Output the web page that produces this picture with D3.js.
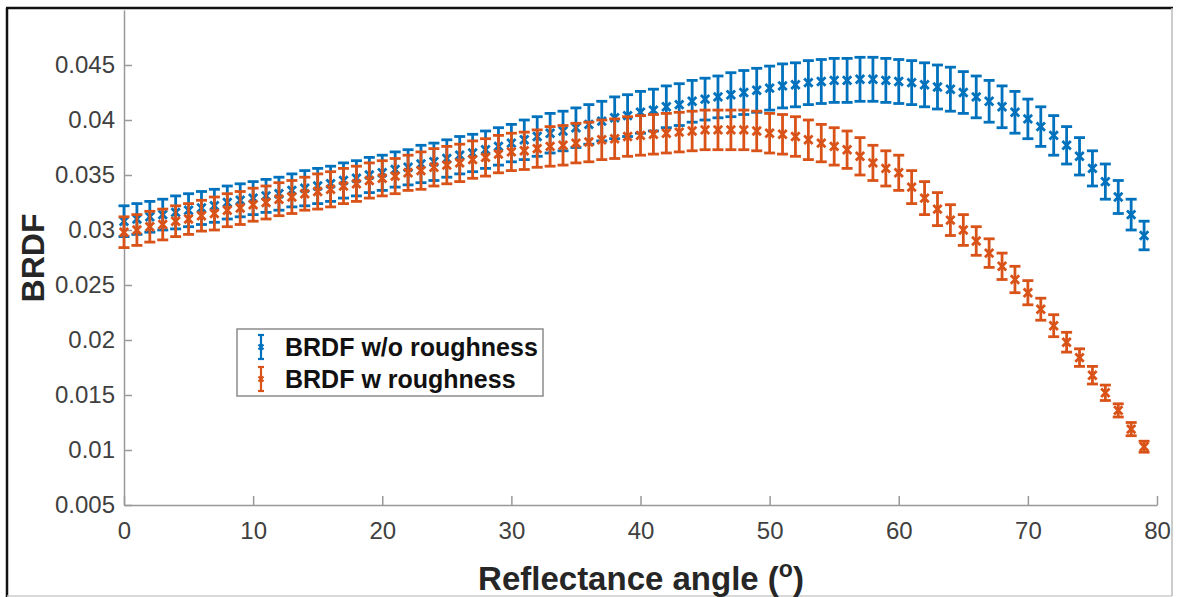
<!DOCTYPE html>
<html>
<head>
<meta charset="utf-8">
<script src="https://cdn.jsdelivr.net/npm/d3@7"></script>
<style>
  body { margin: 0; background: #fff; }
  text { font-family: "Liberation Sans", Arial, sans-serif; }
</style>
</head>
<body>
<div id="chart"></div>
<script>
// reflectance angle (deg)
var angles = [0,1,2,3,4,5,6,7,8,9,10,11,12,13,14,15,16,17,18,19,
  20,21,22,23,24,25,26,27,28,29,30,31,32,33,34,35,36,37,38,39,
  40,41,42,43,44,45,46,47,48,49,50,51,52,53,54,55,56,57,58,59,
  60,61,62,63,64,65,66,67,68,69,70,71,72,73,74,75,76,77,78,79];

// BRDF w/o roughness
var brdfSmooth = [0.0308,0.0310,0.0312,0.0314,0.0316,0.0318,0.0320,0.0322,0.0325,0.0327,
  0.0329,0.0331,0.0333,0.0336,0.0338,0.0340,0.0342,0.0345,0.0347,0.0350,
  0.0352,0.0355,0.0357,0.0360,0.0362,0.0365,0.0368,0.0370,0.0373,0.0376,
  0.0379,0.0382,0.0385,0.0388,0.0390,0.0393,0.0396,0.0399,0.0402,0.0404,
  0.0407,0.0409,0.0412,0.0414,0.0417,0.0419,0.0421,0.0423,0.0425,0.0427,
  0.0429,0.0431,0.0432,0.0434,0.0435,0.0436,0.0436,0.0437,0.0437,0.0436,
  0.0435,0.0434,0.0432,0.0430,0.0428,0.0425,0.0421,0.0417,0.0412,0.0407,
  0.0401,0.0394,0.0386,0.0377,0.0367,0.0356,0.0344,0.0330,0.0314,0.0295];
var errSmooth = [0.0014,0.0014,0.0014,0.0014,0.0015,0.0015,0.0015,0.0015,0.0015,0.0015,
  0.0015,0.0015,0.0015,0.0015,0.0016,0.0016,0.0016,0.0016,0.0016,0.0016,
  0.0016,0.0016,0.0016,0.0017,0.0017,0.0017,0.0017,0.0017,0.0017,0.0017,
  0.0017,0.0018,0.0018,0.0018,0.0018,0.0018,0.0018,0.0018,0.0019,0.0019,
  0.0019,0.0019,0.0019,0.0019,0.0019,0.0019,0.0019,0.0020,0.0020,0.0020,
  0.0020,0.0020,0.0020,0.0020,0.0020,0.0020,0.0020,0.0020,0.0020,0.0020,
  0.0020,0.0020,0.0020,0.0020,0.0020,0.0019,0.0019,0.0019,0.0019,0.0019,
  0.0018,0.0018,0.0018,0.0017,0.0017,0.0016,0.0016,0.0015,0.0014,0.0013];

// BRDF w roughness
var brdfRough = [0.0298,0.0300,0.0303,0.0305,0.0308,0.0310,0.0313,0.0315,0.0318,0.0320,
  0.0323,0.0325,0.0328,0.0330,0.0333,0.0335,0.0337,0.0340,0.0342,0.0345,
  0.0347,0.0349,0.0352,0.0354,0.0357,0.0359,0.0361,0.0364,0.0366,0.0369,
  0.0371,0.0372,0.0374,0.0376,0.0377,0.0379,0.0380,0.0382,0.0383,0.0385,
  0.0386,0.0387,0.0388,0.0389,0.0390,0.0391,0.0391,0.0391,0.0391,0.0390,
  0.0388,0.0387,0.0385,0.0382,0.0379,0.0376,0.0373,0.0367,0.0361,0.0356,
  0.0352,0.0339,0.0329,0.0319,0.0309,0.0300,0.0290,0.0279,0.0267,0.0255,
  0.0243,0.0228,0.0213,0.0198,0.0184,0.0168,0.0152,0.0136,0.0119,0.0103];
var errRough = [0.0014,0.0014,0.0014,0.0014,0.0014,0.0014,0.0014,0.0015,0.0015,0.0015,
  0.0015,0.0015,0.0015,0.0015,0.0015,0.0016,0.0016,0.0016,0.0016,0.0016,
  0.0016,0.0016,0.0016,0.0017,0.0017,0.0017,0.0017,0.0017,0.0017,0.0017,
  0.0017,0.0017,0.0017,0.0018,0.0018,0.0018,0.0018,0.0018,0.0018,0.0018,
  0.0018,0.0018,0.0018,0.0018,0.0018,0.0018,0.0018,0.0018,0.0018,0.0018,
  0.0018,0.0018,0.0018,0.0018,0.0017,0.0017,0.0017,0.0017,0.0016,0.0016,
  0.0016,0.0015,0.0015,0.0015,0.0014,0.0014,0.0013,0.0013,0.0012,0.0012,
  0.0011,0.0010,0.0010,0.0009,0.0008,0.0008,0.0007,0.0006,0.0006,0.0005];

var xTicks = [0,10,20,30,40,50,60,70,80];
var yTicks = [0.005,0.01,0.015,0.02,0.025,0.03,0.035,0.04,0.045];
var yTickLabels = ["0.005","0.01","0.015","0.02","0.025","0.03","0.035","0.04","0.045"];
var seriesNames = ["BRDF w/o roughness", "BRDF w roughness"];
var seriesColors = ["#0072BD", "#D95319"];

var width = 1177, height = 597;
var svg = d3.select("#chart").append("svg")
  .attr("width", width).attr("height", height);

// outer frame (black left/top, grey right/bottom)
svg.append("line").attr("x1", 7).attr("y1", 8).attr("x2", 7).attr("y2", 597)
  .attr("stroke", "#111").attr("stroke-width", 2.5);
svg.append("line").attr("x1", 6).attr("y1", 8).attr("x2", 1173).attr("y2", 8)
  .attr("stroke", "#111").attr("stroke-width", 2.5);
svg.append("line").attr("x1", 1172).attr("y1", 8).attr("x2", 1172).attr("y2", 596)
  .attr("stroke", "#bbb").attr("stroke-width", 1.5);
svg.append("line").attr("x1", 7).attr("y1", 596).attr("x2", 1172).attr("y2", 596)
  .attr("stroke", "#ccc").attr("stroke-width", 1.5);

var x = d3.scaleLinear().domain([0, 80]).range([124, 1157]);
var y = d3.scaleLinear().domain([0.005, 0.05]).range([505, 10]);

var xAxis = svg.append("g")
  .attr("transform", "translate(0,505)")
  .call(d3.axisBottom(x).tickValues(xTicks).tickSize(-9).tickSizeOuter(0).tickPadding(17));
var yAxis = svg.append("g")
  .attr("transform", "translate(124,0)")
  .call(d3.axisLeft(y).tickValues(yTicks).tickSize(-8).tickSizeOuter(0).tickPadding(9)
    .tickFormat(function(d, i) { return yTickLabels[i]; }));

[xAxis, yAxis].forEach(function(a) {
  a.select(".domain").attr("stroke", "#999").attr("stroke-width", 1.5);
  a.selectAll(".tick line").attr("stroke", "#999").attr("stroke-width", 1.5);
  a.selectAll(".tick text").attr("fill", "#404040")
    .style("font-size", "24px").style("font-family", "'Liberation Sans', Arial, sans-serif");
});

// error bar series
var capHalf = 5.5, mk = 4.2;
var drawSeries = function(vals, errs, color) {
  var pts = angles.map(function(a, i) { return {a: a, v: vals[i], e: errs[i]}; });
  var g = svg.append("g")
    .attr("stroke", color).attr("stroke-width", 2.8).attr("fill", "none");
  var bar = g.selectAll("g").data(pts).enter().append("g");
  bar.append("line")
    .attr("x1", function(d) { return x(d.a); })
    .attr("x2", function(d) { return x(d.a); })
    .attr("y1", function(d) { return y(d.v + d.e); })
    .attr("y2", function(d) { return y(d.v - d.e); });
  bar.append("line")
    .attr("x1", function(d) { return x(d.a) - capHalf; })
    .attr("x2", function(d) { return x(d.a) + capHalf; })
    .attr("y1", function(d) { return y(d.v + d.e); })
    .attr("y2", function(d) { return y(d.v + d.e); });
  bar.append("line")
    .attr("x1", function(d) { return x(d.a) - capHalf; })
    .attr("x2", function(d) { return x(d.a) + capHalf; })
    .attr("y1", function(d) { return y(d.v - d.e); })
    .attr("y2", function(d) { return y(d.v - d.e); });
  // x marker
  bar.append("path")
    .attr("d", function(d) {
      var cx = x(d.a), cy = y(d.v);
      return "M" + (cx - mk) + "," + (cy - mk) + "L" + (cx + mk) + "," + (cy + mk) +
        "M" + (cx - mk) + "," + (cy + mk) + "L" + (cx + mk) + "," + (cy - mk);
    });
};
drawSeries(brdfSmooth, errSmooth, seriesColors[0]);
drawSeries(brdfRough, errRough, seriesColors[1]);

// axis labels
svg.append("text")
  .attr("transform", "translate(44,258) rotate(-90)")
  .attr("text-anchor", "middle")
  .attr("fill", "#262626")
  .style("font-size", "32px").style("font-weight", "bold")
  .text("BRDF");

var xl = svg.append("text")
  .attr("x", 641).attr("y", 590)
  .attr("text-anchor", "middle")
  .attr("fill", "#262626")
  .style("font-size", "33px").style("font-weight", "bold");
xl.append("tspan").text("Reflectance angle (");
xl.append("tspan").attr("dy", -13).style("font-size", "23px").text("o");
xl.append("tspan").attr("dy", 13).text(")");

// legend
var leg = svg.append("g");
leg.append("rect")
  .attr("x", 237).attr("y", 329).attr("width", 306).attr("height", 67)
  .attr("fill", "#fff").attr("stroke", "#8c8c8c").attr("stroke-width", 1.5);
seriesNames.forEach(function(name, i) {
  var cy = 347 + i * 32;
  var lg = leg.append("g").attr("stroke", seriesColors[i]).attr("stroke-width", 2.2);
  lg.append("line").attr("x1", 261).attr("x2", 261).attr("y1", cy - 12).attr("y2", cy + 12);
  lg.append("line").attr("x1", 258).attr("x2", 264).attr("y1", cy - 12).attr("y2", cy - 12);
  lg.append("line").attr("x1", 258).attr("x2", 264).attr("y1", cy + 12).attr("y2", cy + 12);
  lg.append("path").attr("d", "M258.5," + (cy - 2.5) + "L263.5," + (cy + 2.5) +
    "M258.5," + (cy + 2.5) + "L263.5," + (cy - 2.5));
  leg.append("text")
    .attr("x", 285).attr("y", cy + 9)
    .attr("fill", "#111")
    .style("font-size", "25px").style("font-weight", "bold")
    .text(name);
});
</script>
</body>
</html>
